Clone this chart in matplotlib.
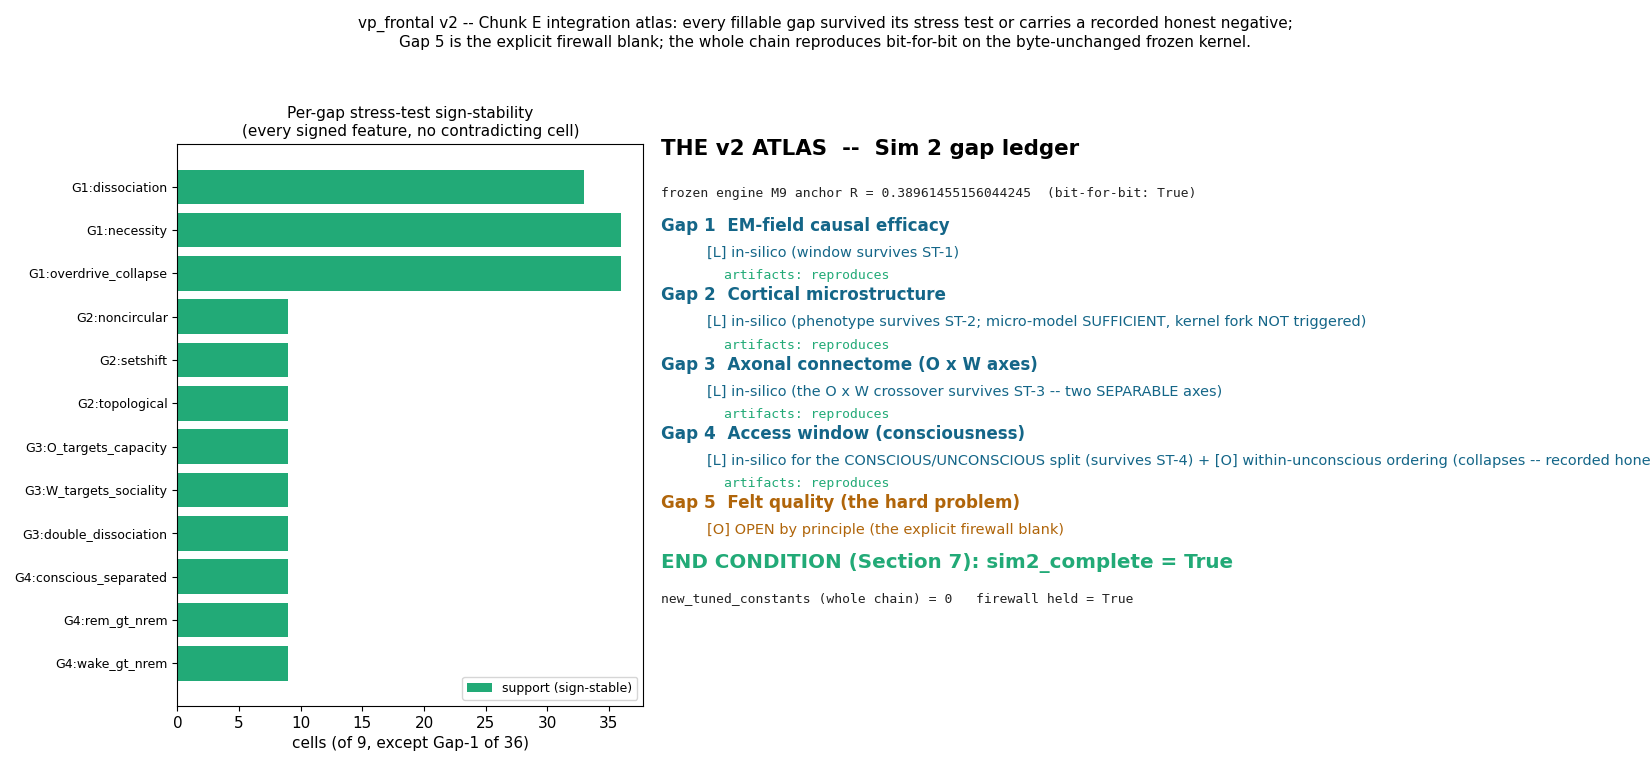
import matplotlib
matplotlib.use("Agg")
import matplotlib.pyplot as plt

features = ["G1:dissociation", "G1:necessity", "G1:overdrive_collapse",
            "G2:noncircular", "G2:setshift", "G2:topological",
            "G3:O_targets_capacity", "G3:W_targets_sociality", "G3:double_dissociation",
            "G4:conscious_separated", "G4:rem_gt_nrem", "G4:wake_gt_nrem"]
support = [33, 36, 36, 9, 9, 9, 9, 9, 9, 9, 9, 9]

GREEN = "#22aa77"
BLUE = "#146688"
ORANGE = "#b0650a"

fig = plt.figure(figsize=(16.5, 7.7), dpi=100)
fig.suptitle("vp_frontal v2 -- Chunk E integration atlas: every fillable gap survived its stress test or carries a recorded honest negative;\n"
             "Gap 5 is the explicit firewall blank; the whole chain reproduces bit-for-bit on the byte-unchanged frozen kernel.",
             fontsize=11, y=0.979)

ax = fig.add_axes([0.1075, 0.083, 0.2825, 0.73])
ypos = list(range(len(features)))
ax.barh(ypos, support, color=GREEN, label="support (sign-stable)")
ax.set_yticks(ypos)
ax.set_yticklabels(features, fontsize=9)
ax.invert_yaxis()
ax.set_xlabel("cells (of 9, except Gap-1 of 36)", fontsize=11)
ax.set_title("Per-gap stress-test sign-stability\n(every signed feature, no contradicting cell)", fontsize=11)
ax.tick_params(axis="x", labelsize=11)
ax.legend(loc="lower right", fontsize=9)

tx = fig.add_axes([0.40, 0.0, 0.60, 1.0])
tx.axis("off")

def Y(py):
    return 1 - (py + 1) / 770.0

x0, x1, x2 = 0.001, 0.0475, 0.0645

tx.text(x0, Y(148), "THE v2 ATLAS  --  Sim 2 gap ledger", fontsize=15.4, fontweight="bold", va="center")
tx.text(x0, Y(193), "frozen engine M9 anchor R = 0.38961455156044245  (bit-for-bit: True)",
        family="DejaVu Sans Mono", fontsize=9.35, va="center", color="#222222")

gaps = [
    ("Gap 1  EM-field causal efficacy", "[L] in-silico (window survives ST-1)", True, BLUE),
    ("Gap 2  Cortical microstructure", "[L] in-silico (phenotype survives ST-2; micro-model SUFFICIENT, kernel fork NOT triggered)", True, BLUE),
    ("Gap 3  Axonal connectome (O x W axes)", "[L] in-silico (the O x W crossover survives ST-3 -- two SEPARABLE axes)", True, BLUE),
    ("Gap 4  Access window (consciousness)", "[L] in-silico for the CONSCIOUS/UNCONSCIOUS split (survives ST-4) + [O] within-unconscious ordering (collapses -- recorded honest negative)", True, BLUE),
    ("Gap 5  Felt quality (the hard problem)", "[O] OPEN by principle (the explicit firewall blank)", False, ORANGE),
]
base = 225
for i, (head, desc, art, col) in enumerate(gaps):
    y0 = base + i * 69.3
    tx.text(x0, Y(y0), head, fontsize=12.1, fontweight="bold", color=col, va="center")
    tx.text(x1, Y(y0 + 27), desc, fontsize=10.43, color=col, va="center")
    if art:
        tx.text(x2, Y(y0 + 50), "artifacts: reproduces", family="DejaVu Sans Mono",
                fontsize=9.45, color=GREEN, va="center")

tx.text(x0, Y(562), "END CONDITION (Section 7): sim2_complete = True", fontsize=14.3,
        fontweight="bold", color=GREEN, va="center")
tx.text(x0, Y(598), "new_tuned_constants (whole chain) = 0   firewall held = True",
        family="DejaVu Sans Mono", fontsize=9.35, color="#222222", va="center")

fig.savefig("out.png", dpi=100)
